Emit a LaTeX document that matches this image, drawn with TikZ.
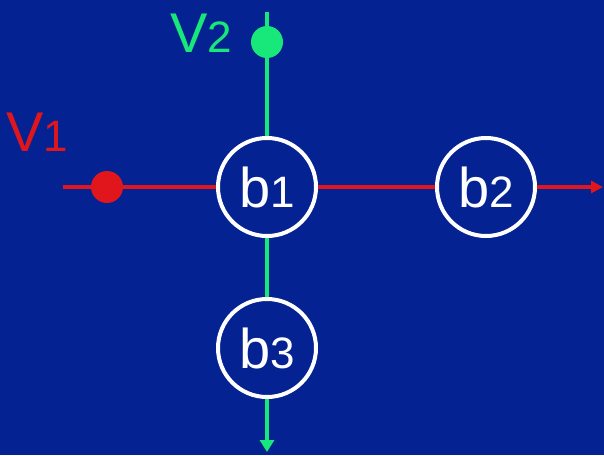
\documentclass[tikz,border=0pt]{standalone}
\usepackage{fontspec}
\setmainfont{Liberation Sans}
\usetikzlibrary{arrows.meta}
\definecolor{slidebg}{RGB}{4,34,145}
\definecolor{vred}{RGB}{225,22,28}
\definecolor{vgreen}{RGB}{24,232,122}
\newcommand{\digit}[1]{{\fontsize{22}{22}\selectfont #1}}
\tikzset{
    block/.style = {
        circle,
        draw = white,
        line width = 2pt,
        minimum size = 49pt,
        inner sep = 0pt,
        text = white,
        font = \fontsize{28}{28}\selectfont,
        },
    source/.style = {
        circle,
        inner sep = 0pt,
        minimum size = 16pt,
        },
    red edge/.style = {
        draw = vred,
        line width = 2pt,
        },
    green edge/.style = {
        draw = vgreen,
        line width = 2pt,
        },
    var label/.style = {
        font = \fontsize{28}{28}\selectfont,
        },
}

\begin{document}
\begin{tikzpicture}[x=0.5pt, y=-0.5pt]
    \useasboundingbox (0,0) rectangle (604,455);
    \fill[slidebg] (0,0) rectangle (604,455);

    % blocks
    \node [block] (b1) at (267,187) {b\digit{1}};
    \node [block] (b2) at (486,187) {b\digit{2}};
    \node [block] (b3) at (267,348) {b\digit{3}};

    % inputs
    \node [source, fill=vred] (v1) at (107,187) {};
    \node [source, fill=vgreen] (v2) at (267,42) {};
    \node [var label, text=vred] (v1lbl) at (37,132) {V\digit{1}};
    \node [var label, text=vgreen] (v2lbl) at (201,33) {V\digit{2}};

    \coordinate (redin) at (63,187);
    \coordinate (redout) at (603,187);
    \coordinate (greenin) at (267,12);
    \coordinate (greenout) at (267,452);

    % red path
    \draw[red edge] (redin) -- (v1);
    \draw[red edge] (v1) -- (b1);
    \draw[red edge] (b1) -- (b2);
    \draw[red edge, -{Triangle[length=6pt, width=6pt]}] (b2) -- (redout);

    % green path
    \draw[green edge] (greenin) -- (v2);
    \draw[green edge] (v2) -- (b1);
    \draw[green edge] (b1) -- (b3);
    \draw[green edge, -{Triangle[length=6pt, width=7pt]}] (b3) -- (greenout);
\end{tikzpicture}
\end{document}
